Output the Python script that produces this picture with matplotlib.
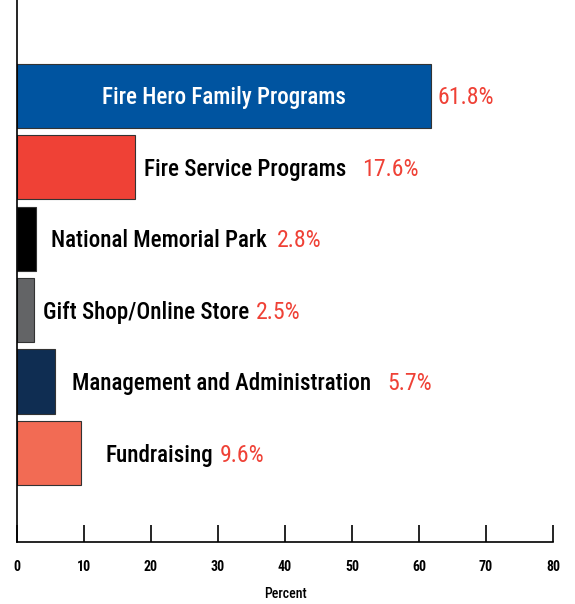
import matplotlib.pyplot as plt

# Data
categories = ["Fire Hero Family Programs", "Fire Service Programs", "National Memorial Park",
              "Gift Shop/Online Store", "Management and Administration", "Fundraising"]
values = [61.8, 17.6, 2.8, 2.5, 5.7, 9.6]
colors = ["#0054A0", "#EF4136", "#000000", "#636466", "#0F2D52", "#F26B54"]
label_pad = [0, 9, 15, 9, 17, 24]   # gap (px) between bar end and label
value_pad = [6, 16, 10, 7, 16, 7]   # gap (px) between label and percent

plt.rcParams["font.family"] = ["Roboto Condensed", "Archivo Narrow", "DejaVu Sans"]

fig = plt.figure(figsize=(5.75, 6.04), dpi=100)
ax = fig.add_axes([17 / 575, 1 - 542 / 604, (553 - 17) / 575, 542 / 604])

pos = list(range(len(categories)))
ax.barh(pos, values, height=0.9, color=colors, edgecolor="#333333", linewidth=0.8)
ax.set_xlim(0, 80)
ax.set_ylim(5 + 1.245, -1.34)

fs = 16.6
fig.canvas.draw()
r = fig.canvas.get_renderer()
for i, (c, v) in enumerate(zip(categories, values)):
    if i == 0:
        ax.annotate(c, (v / 2, i), xytext=(0, -2), textcoords="offset pixels", color="white",
                    fontsize=fs, fontweight="medium", va="center", ha="center")
        ax.annotate(f"{v}%", (v, i), xytext=(value_pad[i], -2), textcoords="offset pixels",
                    color="#EF4136", fontsize=fs + 0.6, va="center", ha="left")
        continue
    t = ax.annotate(c, (v, i), xytext=(label_pad[i], -2), textcoords="offset pixels",
                    color="black", fontsize=fs, fontweight="medium", va="center", ha="left")
    bb = t.get_window_extent(renderer=r)
    ax.annotate(f"{v}%", (0, 0.5), xycoords=t, xytext=(bb.width + value_pad[i], 0),
                textcoords="offset pixels", color="#EF4136", fontsize=fs + 0.6,
                va="center", ha="left")

ax.spines["top"].set_visible(False)
ax.spines["right"].set_visible(False)
ax.spines["left"].set_linewidth(1.2)
ax.spines["bottom"].set_linewidth(1.2)
ax.set_yticks([])
ax.set_xticks(range(0, 81, 10))
ax.tick_params(axis="x", direction="in", length=12, width=1.2, pad=13, labelsize=10)
for lab in ax.get_xticklabels():
    lab.set_fontweight("bold")
ax.set_xlabel("Percent", fontsize=10, fontweight="medium", labelpad=9)

fig.savefig("out.png", dpi=100)
